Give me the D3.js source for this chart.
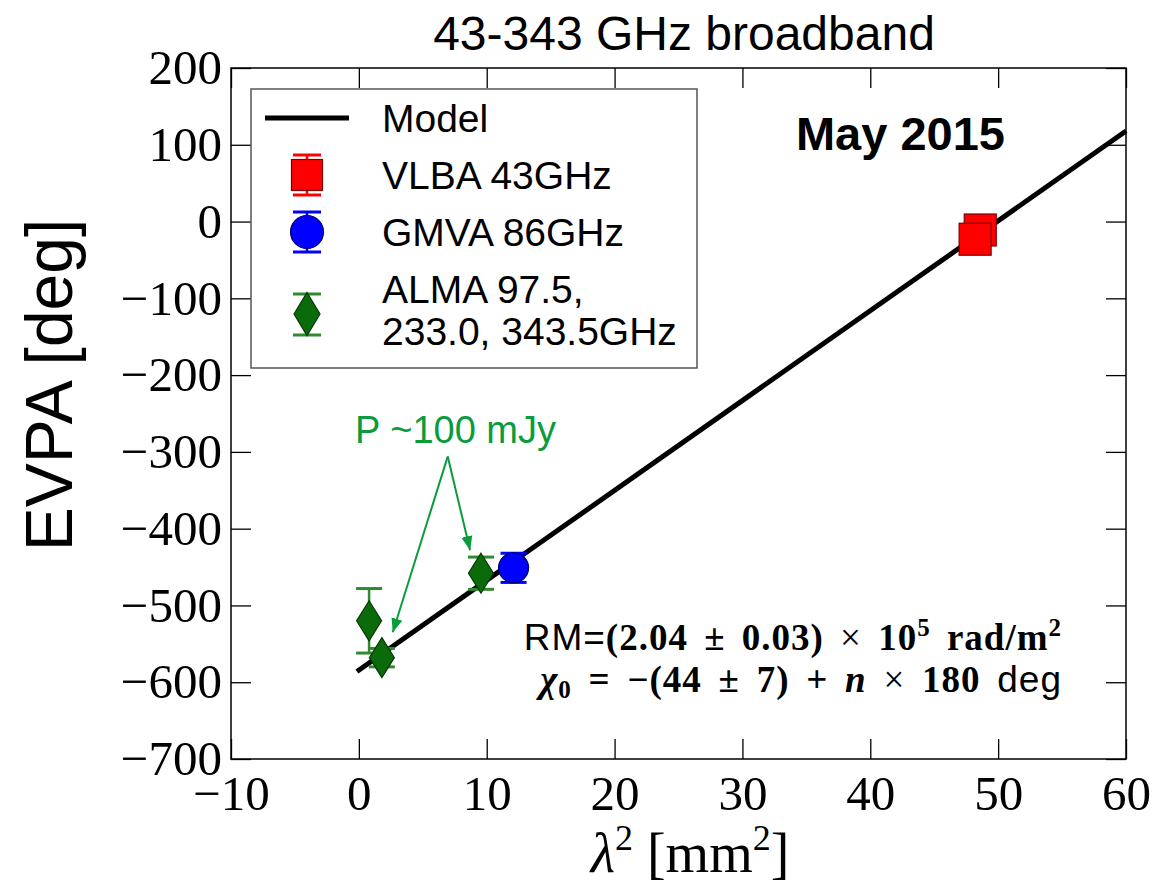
<!DOCTYPE html>
<html>
<head>
<meta charset="utf-8">
<script src="https://cdn.jsdelivr.net/npm/d3@7"></script>
<style>
  body { margin: 0; background: #fff; }
  .tick text { font-family: "Liberation Serif", serif; font-size: 49px; fill: #000; }
  .tick line { stroke: #000; stroke-width: 1.3; }
</style>
</head>
<body>
<svg width="1156" height="892"></svg>
<script>
// data (lambda^2 in mm^2, EVPA in deg)
const xTicks = [-10, 0, 10, 20, 30, 40, 50, 60];
const yTicks = [200, 100, 0, -100, -200, -300, -400, -500, -600, -700];

const modelX = [-0.15, 60];
const modelY = [-586, 118];

const vlbaX = [48.6, 48.2];
const vlbaY = [-11, -23];
const vlbaErr = [8, 8];

const gmvaX = [12.1];
const gmvaY = [-451];
const gmvaErr = [19];

const almaX = [0.8, 1.8, 9.55];
const almaY = [-520, -568, -458];
const almaErr = [42, 12, 21];

const legendLabels = ["Model", "VLBA 43GHz", "GMVA 86GHz", ["ALMA 97.5,", "233.0, 343.5GHz"]];

// annotation: "P ~100 mJy" arrows, apex and tips in data units
const arrowApex = [6.95, -306];
const arrowTips = [[8.7, -428], [2.65, -535]];

const svg = d3.select("svg"),
      margin = { top: 68, right: 30, bottom: 133, left: 231 },
      width = +svg.attr("width") - margin.left - margin.right,
      height = +svg.attr("height") - margin.top - margin.bottom;

svg.append("rect").attr("width", 1156).attr("height", 892).attr("fill", "#fff");

const x = d3.scaleLinear().domain([-10, 60]).range([0, width]);
const y = d3.scaleLinear().domain([-700, 200]).range([height, 0]);

const g = svg.append("g").attr("transform", `translate(${margin.left},${margin.top})`);

const fmt = d => (d < 0 ? "\u2212" + Math.abs(d) : "" + d);

g.append("g").attr("transform", `translate(0,${height})`)
  .call(d3.axisBottom(x).tickValues(xTicks).tickSize(-20).tickPadding(16).tickFormat(fmt))
  .call(a => a.select(".domain").remove());
g.append("g")
  .call(d3.axisTop(x).tickValues(xTicks).tickSize(-20).tickFormat(""))
  .call(a => a.select(".domain").remove());
g.append("g")
  .call(d3.axisLeft(y).tickValues(yTicks).tickSize(-20).tickPadding(9).tickFormat(fmt))
  .call(a => a.select(".domain").remove());
g.append("g").attr("transform", `translate(${width},0)`)
  .call(d3.axisRight(y).tickValues(yTicks).tickSize(-20).tickFormat(""))
  .call(a => a.select(".domain").remove());

g.selectAll(".tick text").attr("font-family", null).attr("font-size", null);

g.append("rect").attr("width", width).attr("height", height)
  .attr("fill", "none").attr("stroke", "#000").attr("stroke-width", 1.5);

// model line
g.append("path")
  .datum(modelX.map((d, i) => [d, modelY[i]]))
  .attr("fill", "none").attr("stroke", "#000").attr("stroke-width", 5)
  .attr("d", d3.line().x(d => x(d[0])).y(d => y(d[1])));

const red = "#ff0000", blue = "#0000ff", green = "#0b6b0b", greenBar = "#2e8b2e";

function errorbar(sel, cx, cyTop, cyBot, color, capW) {
  sel.append("line").attr("x1", cx).attr("x2", cx).attr("y1", cyTop).attr("y2", cyBot)
    .attr("stroke", color).attr("stroke-width", 2.5);
  [cyTop, cyBot].forEach(cy => sel.append("line")
    .attr("x1", cx - capW / 2).attr("x2", cx + capW / 2).attr("y1", cy).attr("y2", cy)
    .attr("stroke", color).attr("stroke-width", 3));
}
function square(sel, cx, cy, s) {
  sel.append("rect").attr("x", cx - s / 2).attr("y", cy - s / 2).attr("width", s).attr("height", s)
    .attr("fill", red).attr("stroke", "#7a0000").attr("stroke-width", 1.2);
}
function circle(sel, cx, cy, r) {
  sel.append("circle").attr("cx", cx).attr("cy", cy).attr("r", r)
    .attr("fill", blue).attr("stroke", "#00006a").attr("stroke-width", 1.2);
}
function diamond(sel, cx, cy, w, h) {
  sel.append("path").attr("d", `M${cx},${cy - h / 2}L${cx + w / 2},${cy}L${cx},${cy + h / 2}L${cx - w / 2},${cy}Z`)
    .attr("fill", green).attr("stroke", "#063806").attr("stroke-width", 1.2);
}

const pts = g.append("g");
almaX.forEach((d, i) => errorbar(pts, x(d), y(almaY[i] + almaErr[i]), y(almaY[i] - almaErr[i]), greenBar, 26));
almaX.forEach((d, i) => diamond(pts, x(d), y(almaY[i]), 25, 40));
gmvaX.forEach((d, i) => errorbar(pts, x(d), y(gmvaY[i] + gmvaErr[i]), y(gmvaY[i] - gmvaErr[i]), blue, 26));
gmvaX.forEach((d, i) => circle(pts, x(d), y(gmvaY[i]), 15));
vlbaX.forEach((d, i) => {
  errorbar(pts, x(d), y(vlbaY[i] + vlbaErr[i]), y(vlbaY[i] - vlbaErr[i]), red, 26);
  square(pts, x(d), y(vlbaY[i]), 32);
});

// legend
const lg = svg.append("g");
lg.append("rect").attr("x", 251).attr("y", 89).attr("width", 446).attr("height", 279)
  .attr("fill", "#fff").attr("stroke", "#555").attr("stroke-width", 1.5);
const lx = 307, tx = 382;
lg.append("line").attr("x1", 265).attr("x2", 349).attr("y1", 118).attr("y2", 118)
  .attr("stroke", "#000").attr("stroke-width", 5);
errorbar(lg, lx, 155, 195, red, 28); square(lg, lx, 175, 31);
errorbar(lg, lx, 212, 252, blue, 28); circle(lg, lx, 232, 16.5);
errorbar(lg, lx, 294, 335, greenBar, 28); diamond(lg, lx, 314, 26, 43);
const ltext = lg.append("g").attr("font-family", "Liberation Sans, Arial, sans-serif").attr("font-size", 39);
ltext.append("text").attr("x", tx).attr("y", 132).text(legendLabels[0]);
ltext.append("text").attr("x", tx).attr("y", 189).text(legendLabels[1]);
ltext.append("text").attr("x", tx).attr("y", 246).text(legendLabels[2]);
ltext.append("text").attr("x", tx).attr("y", 303).text(legendLabels[3][0]);
ltext.append("text").attr("x", tx).attr("y", 345).text(legendLabels[3][1]);

// title & labels
const serif = "Liberation Serif, serif", sans = "Liberation Sans, Arial, sans-serif";
svg.append("text").attr("x", 684).attr("y", 50).attr("text-anchor", "middle")
  .attr("font-family", sans).attr("font-size", 48)
  .text("43-343 GHz broadband");
svg.append("text").attr("x", 1005).attr("y", 150).attr("text-anchor", "end")
  .attr("font-family", sans).attr("font-size", 47).attr("font-weight", "bold")
  .text("May 2015");
svg.append("text").attr("transform", "translate(72,385) rotate(-90)").attr("text-anchor", "middle")
  .attr("font-family", sans).attr("font-size", 66)
  .text("EVPA [deg]");
const xl = svg.append("text").attr("x", 690).attr("y", 872).attr("text-anchor", "middle")
  .attr("font-family", serif).attr("font-size", 56);
xl.append("tspan").attr("font-style", "italic").text("\u03bb");
xl.append("tspan").attr("font-size", 36).attr("dy", -22).text("2");
xl.append("tspan").attr("dy", 22).text(" [mm");
xl.append("tspan").attr("font-size", 36).attr("dy", -22).text("2");
xl.append("tspan").attr("dy", 22).text("]");

// fit result text
const r1 = svg.append("text").attr("x", 1062).attr("y", 650).attr("text-anchor", "end")
  .attr("font-size", 37).attr("font-family", serif).attr("font-weight", "bold")
  .attr("letter-spacing", 1).attr("word-spacing", 6);
r1.append("tspan").attr("font-family", sans).attr("font-weight", "normal").text("RM=");
r1.append("tspan").text("(2.04 \u00b1 0.03) ");
r1.append("tspan").attr("font-weight", "normal").text("\u00d7 ");
r1.append("tspan").text("10");
r1.append("tspan").attr("font-size", 25).attr("dy", -14).text("5");
r1.append("tspan").attr("dy", 14).text(" rad/m");
r1.append("tspan").attr("font-size", 25).attr("dy", -14).text("2");
const r2 = svg.append("text").attr("x", 1062).attr("y", 692).attr("text-anchor", "end")
  .attr("font-size", 37).attr("font-family", serif).attr("font-weight", "bold")
  .attr("letter-spacing", 1).attr("word-spacing", 6.5);
r2.append("tspan").attr("font-style", "italic").text("\u03c7");
r2.append("tspan").attr("font-size", 25).attr("dy", 6).text("0");
r2.append("tspan").attr("dy", -6).text(" = \u2212(44 \u00b1 7) + ");
r2.append("tspan").attr("font-style", "italic").text("n");
r2.append("tspan").attr("font-weight", "normal").text(" \u00d7 ");
r2.append("tspan").text("180 ");
r2.append("tspan").attr("font-family", sans).attr("font-weight", "normal").text("deg");

// P ~100 mJy annotation
const annoColor = "#0a9b3c";
svg.append("defs").append("marker").attr("id", "ah").attr("viewBox", "0 0 10 10")
  .attr("refX", 10).attr("refY", 5).attr("markerWidth", 7).attr("markerHeight", 7)
  .attr("markerUnits", "strokeWidth").attr("orient", "auto")
  .append("path").attr("d", "M0,1L10,5L0,9Z").attr("fill", annoColor);
arrowTips.forEach(t => g.append("line")
  .attr("x1", x(arrowApex[0])).attr("y1", y(arrowApex[1]))
  .attr("x2", x(t[0])).attr("y2", y(t[1]))
  .attr("stroke", annoColor).attr("stroke-width", 2).attr("marker-end", "url(#ah)"));
svg.append("text").attr("x", 355).attr("y", 443)
  .attr("font-family", sans).attr("font-size", 38).attr("fill", annoColor)
  .text("P ~100 mJy");
</script>
</body>
</html>
